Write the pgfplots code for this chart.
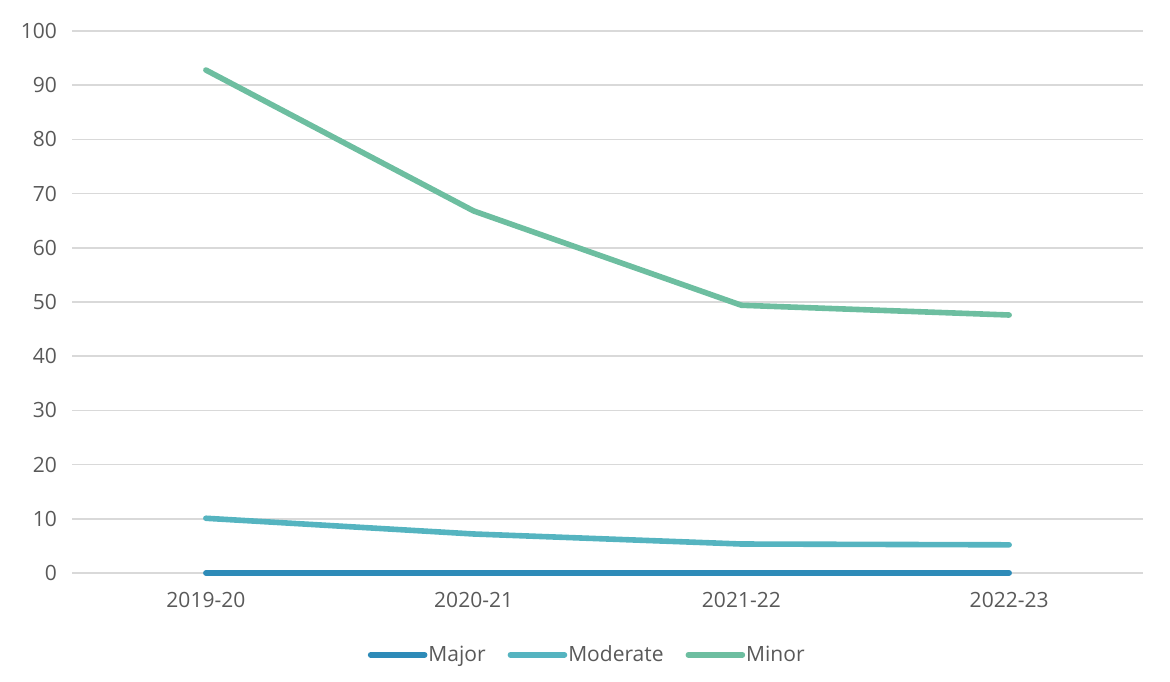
\documentclass[border=0pt]{standalone}
\usepackage{fontspec}
\setmainfont{Open Sans}
\usepackage{pgfplots}
\pgfplotsset{compat=1.18}
\definecolor{cmajor}{HTML}{2E8BB8}
\definecolor{cmod}{HTML}{55B4C0}
\definecolor{cminor}{HTML}{6DBEA0}
\definecolor{gridc}{HTML}{D9D9D9}
\definecolor{txt}{HTML}{595959}
\begin{document}
\begin{tikzpicture}
\path[use as bounding box] (-36pt,-54pt) rectangle (549pt,286.5pt);
\begin{axis}[
  at={(0,0)}, anchor=south west,
  scale only axis, width=535.5pt, height=271pt,
  xmin=-0.5, xmax=3.5, ymin=0, ymax=100,
  xtick={0,1,2,3}, xticklabels={2019-20,2020-21,2021-22,2022-23},
  ytick={0,10,...,100},
  ymajorgrids, grid style={gridc, line width=0.75pt},
  axis line style={draw=none},
  major tick length=0pt,
  tick label style={txt, font=\fontsize{10.5pt}{12pt}\selectfont},
  /pgf/number format/assume math mode=true,
  yticklabel style={xshift=-4pt},
  xticklabel style={yshift=-6pt},
  legend columns=3,
  legend style={draw=none, at={(0.482,-0.151)}, anchor=center, font=\fontsize{10.5pt}{12pt}\selectfont, text=txt,
    /tikz/every odd column/.append style={column sep=-1.5pt},
    /tikz/every even column/.append style={column sep=9pt}},
  legend image code/.code={\draw[#1, line cap=round] (0pt,0pt) -- (27pt,0pt);},
  every axis plot/.append style={line width=2.8pt, line cap=round, line join=round},
  clip=false,
]
\addplot[cmajor] coordinates {(0,0) (1,0) (2,0) (3,0)};
\addlegendentry{Major}
\addplot[cmod] coordinates {(0,10.1) (1,7.2) (2,5.35) (3,5.2)};
\addlegendentry{Moderate}
\addplot[cminor] coordinates {(0,92.8) (1,66.8) (2,49.4) (3,47.6)};
\addlegendentry{Minor}
\end{axis}
\end{tikzpicture}
\end{document}
